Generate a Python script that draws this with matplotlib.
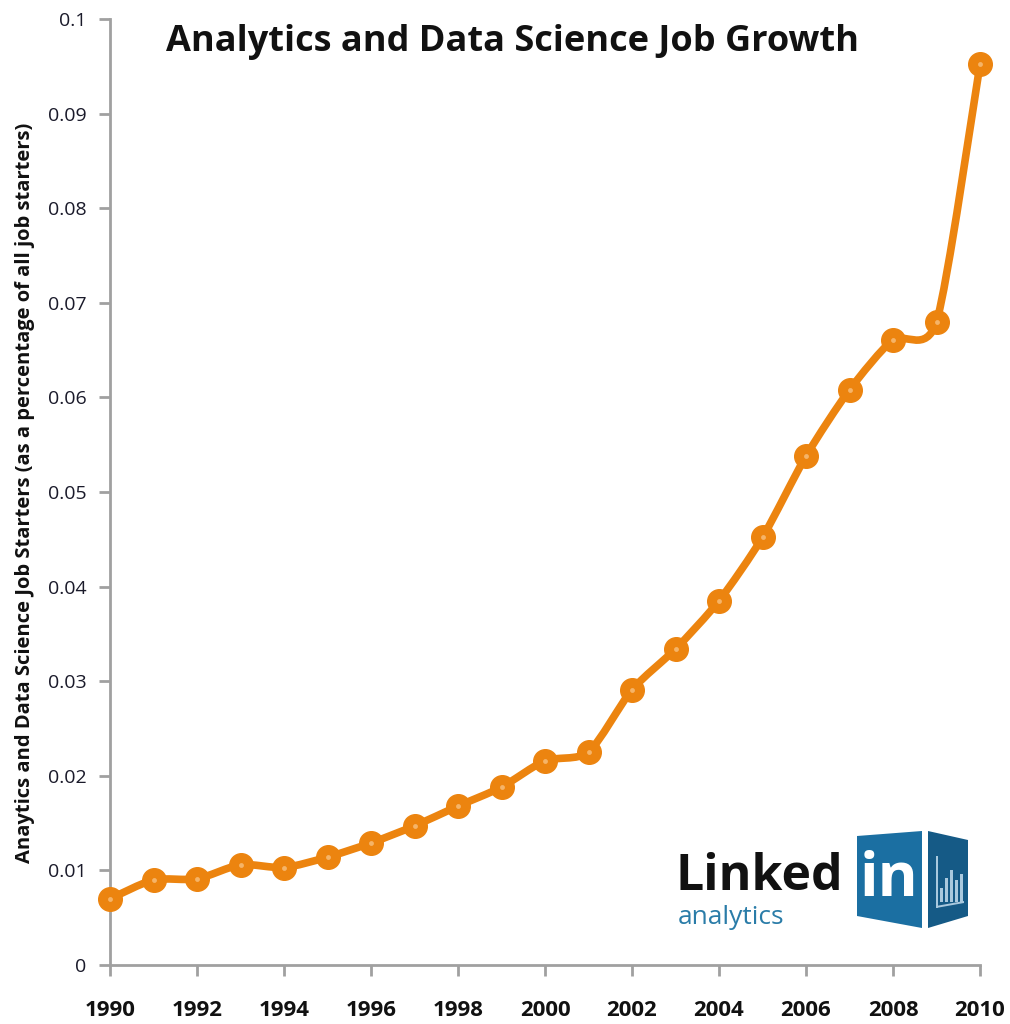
import matplotlib
matplotlib.use("Agg")
import matplotlib.pyplot as plt
from matplotlib.path import Path
from matplotlib.patches import PathPatch, Polygon, Rectangle
import numpy as np

years = list(range(1990, 2011))
share = [0.0070, 0.0090, 0.0091, 0.0106, 0.0103, 0.0114, 0.0129, 0.0147, 0.0168,
         0.0188, 0.0216, 0.0225, 0.0291, 0.0334, 0.0385, 0.0452, 0.0538, 0.0608,
         0.0661, 0.0680, 0.0952]
xtick_years = list(range(1990, 2011, 2))
yticks = [0, 0.01, 0.02, 0.03, 0.04, 0.05, 0.06, 0.07, 0.08, 0.09, 0.1]
ytick_labels = ["0", "0.01", "0.02", "0.03", "0.04", "0.05", "0.06", "0.07", "0.08", "0.09", "0.1"]

title = "Analytics and Data Science Job Growth"
ylabel = "Anaytics and Data Science Job Starters (as a percentage of all job starters)"

ORANGE = "#EC840F"
AXC = "#a0a0a0"
plt.rcParams['font.family'] = ['Open Sans', 'DejaVu Sans']

fig = plt.figure(figsize=(10.10, 10.24), dpi=100)
ax = fig.add_axes([110/1010, 1-965/1024, 870/1010, 946/1024])
ax.set_xlim(1990, 2010)
ax.set_ylim(0, 0.1)

# smoothed line (bezier through the data points, like Excel's smoothed line)
xs = np.array(years, dtype=float)
ys = np.array(share)
k = 0.12
verts = [(xs[0], ys[0])]
codes = [Path.MOVETO]
n = len(xs)
for i in range(n - 1):
    p0 = (xs[max(i-1, 0)], ys[max(i-1, 0)])
    p1 = (xs[i], ys[i])
    p2 = (xs[i+1], ys[i+1])
    p3 = (xs[min(i+2, n-1)], ys[min(i+2, n-1)])
    c1 = (p1[0] + (p2[0]-p0[0])*k, p1[1] + (p2[1]-p0[1])*k)
    c2 = (p2[0] - (p3[0]-p1[0])*k, p2[1] - (p3[1]-p1[1])*k)
    verts += [c1, c2, p2]
    codes += [Path.CURVE4]*3
ax.add_patch(PathPatch(Path(verts, codes), facecolor='none', edgecolor=ORANGE,
                       lw=5.5, capstyle='round', joinstyle='round', clip_on=False, zorder=3))
ax.plot(years, share, linestyle='none', marker='o', markersize=17, markerfacecolor=ORANGE,
        markeredgecolor=ORANGE, markeredgewidth=1, clip_on=False, zorder=4)
ax.plot(years, share, linestyle='none', marker='o', markersize=3.5, markerfacecolor='#F5B468',
        markeredgecolor='none', clip_on=False, zorder=5)

for s in ['top', 'right']:
    ax.spines[s].set_visible(False)
for s in ['left', 'bottom']:
    ax.spines[s].set_color(AXC)
    ax.spines[s].set_linewidth(2)

ax.set_xticks(xtick_years)
ax.set_xticklabels([str(y) for y in xtick_years], fontsize=16, fontweight='bold', color='#111111')
ax.set_yticks(yticks)
ax.set_yticklabels(ytick_labels, fontsize=14, color='#1a1a2a')
ax.tick_params(axis='x', direction='out', length=8, width=2, color=AXC, pad=17)
ax.tick_params(axis='y', direction='out', length=8, width=2, color=AXC, pad=9)

fig.text(513/1010, 1-42/1024, title, ha='center', va='center', fontsize=26, fontweight='bold', color='#111111')
fig.text(25/1010, 1-493/1024, ylabel, ha='center', va='center', rotation=90, fontsize=14.5, fontweight='bold', color='#111111')

# LinkedIn analytics logo
fig.text(676/1010, 1-877/1024, "Linked", ha='left', va='center', fontsize=36, fontweight='bold', color='#111111')
fig.text(678/1010, 1-917/1024, "analytics", ha='left', va='center', fontsize=19, color='#2a7ca8')
def fxy(px, py):
    return (px/1010, 1-py/1024)
box1 = Polygon([fxy(857, 836), fxy(922, 831), fxy(922, 928), fxy(857, 916)], closed=True,
               transform=fig.transFigure, facecolor='#1b6fa2', edgecolor='none')
box2 = Polygon([fxy(928, 831), fxy(968, 840), fxy(968, 916), fxy(928, 928)], closed=True,
               transform=fig.transFigure, facecolor='#155a86', edgecolor='none')
fig.add_artist(box1)
fig.add_artist(box2)
fig.text(889/1010, 1-880/1024, "in", ha='center', va='center', fontsize=44, fontweight='bold', color='white')
for bx, bh in [(940, 14), (945, 24), (950, 32), (955, 22), (960, 28)]:
    fig.add_artist(Rectangle(fxy(bx, 902), 3/1010, bh/1024, transform=fig.transFigure,
                             facecolor='#a9c9de', edgecolor='none'))
fig.add_artist(Polygon([fxy(936, 906), fxy(964, 901), fxy(964, 903), fxy(936, 908)], closed=True,
                       transform=fig.transFigure, facecolor='#a9c9de', edgecolor='none'))
fig.add_artist(Rectangle(fxy(936, 908), 1.5/1010, 52/1024, transform=fig.transFigure,
                         facecolor='#a9c9de', edgecolor='none'))

fig.savefig("out.png", dpi=100)
